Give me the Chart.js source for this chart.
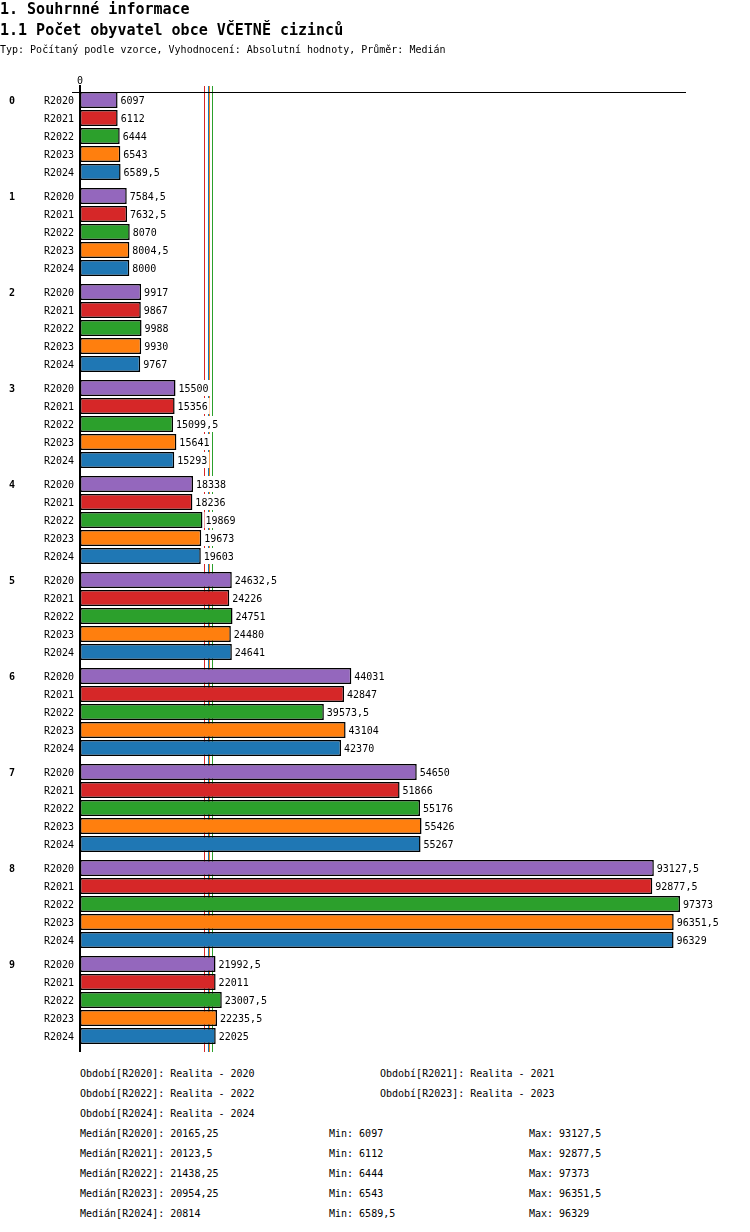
<!DOCTYPE html>
<html>
<head>
<meta charset="utf-8">
<script src="https://cdn.jsdelivr.net/npm/chart.js@4.4.1/dist/chart.umd.min.js"></script>
<style>
  body { margin: 0; background: #fff; color: #000; font-family: "DejaVu Sans Mono", monospace; }
  #page { position: relative; width: 750px; height: 1232px; overflow: hidden; }
  .t1 { position: absolute; left: 0; top: 0; font-size: 15px; font-weight: bold; line-height: 18px; white-space: nowrap; }
  .t2 { position: absolute; left: 0; top: 21px; font-size: 15px; font-weight: bold; line-height: 18px; white-space: nowrap; }
  .sub { position: absolute; left: 0; top: 44px; font-size: 10px; line-height: 12px; white-space: nowrap; }
  #chartBox { position: absolute; left: 0; top: 0; width: 750px; height: 1060px; }
  .foot { position: absolute; font-size: 10px; line-height: 20px; white-space: nowrap; }
</style>
</head>
<body>
<div id="page">
  <div id="chartBox"><canvas id="barChart" width="750" height="1060"></canvas></div>
  <div class="t1">1. Souhrnné informace</div>
  <div class="t2">1.1 Počet obyvatel obce VČETNĚ cizinců</div>
  <div class="sub">Typ: Počítaný podle vzorce, Vyhodnocení: Absolutní hodnoty, Průměr: Medián</div>
  <div id="footer"></div>
</div>
<script>
// groups (rows) and periods (bars in each row)
const groups = ["0", "1", "2", "3", "4", "5", "6", "7", "8", "9"];
const periods = ["R2020", "R2021", "R2022", "R2023", "R2024"];
const periodNames = ["Realita - 2020", "Realita - 2021", "Realita - 2022", "Realita - 2023", "Realita - 2024"];
const periodColors = ["#9467bd", "#d62728", "#2ca02c", "#ff7f0e", "#1f77b4"];

const r2020 = [6097, 7584.5, 9917, 15500, 18338, 24632.5, 44031, 54650, 93127.5, 21992.5];
const r2021 = [6112, 7632.5, 9867, 15356, 18236, 24226, 42847, 51866, 92877.5, 22011];
const r2022 = [6444, 8070, 9988, 15099.5, 19869, 24751, 39573.5, 55176, 97373, 23007.5];
const r2023 = [6543, 8004.5, 9930, 15641, 19673, 24480, 43104, 55426, 96351.5, 22235.5];
const r2024 = [6589.5, 8000, 9767, 15293, 19603, 24641, 42370, 55267, 96329, 22025];

const xMax = 98350;
const series = [r2020, r2021, r2022, r2023, r2024];

function median(arr) {
    const s = [...arr].sort((a, b) => a - b);
    const m = Math.floor(s.length / 2);
    return s.length % 2 ? s[m] : (s[m - 1] + s[m]) / 2;
}
function fmt(v) {
    return String(v).replace(".", ",");
}

const medians = series.map(median);
const mins = series.map(s => Math.min(...s));
const maxs = series.map(s => Math.max(...s));

const FONT = '10px "DejaVu Sans Mono", monospace';

// median lines + axes + labels
const decorPlugin = {
    id: "decor",
    beforeDatasetsDraw(chart) {
        const ctx = chart.ctx;
        const area = chart.chartArea;
        const xs = chart.scales.x;
        ctx.save();
        ctx.lineWidth = 1;
        medians.forEach((m, i) => {
            const x = Math.round(xs.getPixelForValue(m)) + 0.5;
            ctx.strokeStyle = periodColors[i];
            ctx.beginPath();
            ctx.moveTo(x, area.top - 2);
            ctx.lineTo(x, area.bottom + 4);
            ctx.stroke();
        });
        ctx.restore();
    },
    afterDatasetsDraw(chart) {
        const ctx = chart.ctx;
        const area = chart.chartArea;
        const xs = chart.scales.x;
        const x0 = xs.getPixelForValue(0);
        ctx.save();
        ctx.font = FONT;
        ctx.textBaseline = "middle";

        chart.data.datasets.forEach((ds, i) => {
            const meta = chart.getDatasetMeta(i);
            meta.data.forEach((el, j) => {
                const txt = fmt(ds.data[j]);
                const w = ctx.measureText(txt).width;
                ctx.fillStyle = "#fff";
                ctx.fillRect(el.x + 2, el.y - 8, w + 3, 16);
                ctx.fillStyle = "#000";
                ctx.textAlign = "left";
                ctx.fillText(txt, el.x + 3, el.y + 1);
                ctx.textAlign = "right";
                ctx.fillText(periods[i], x0 - 6, el.y + 1);
            });
        });

        // group numbers
        const first = chart.getDatasetMeta(0);
        ctx.font = 'bold 10px "DejaVu Sans Mono", monospace';
        ctx.textAlign = "left";
        first.data.forEach((el, j) => {
            ctx.fillText(groups[j], 9, el.y + 1);
        });

        // axes
        ctx.strokeStyle = "#000";
        ctx.lineWidth = 1;
        ctx.beginPath();
        ctx.moveTo(x0 - 8, area.top + 4.5);
        ctx.lineTo(area.right, area.top + 4.5);
        ctx.stroke();
        ctx.lineWidth = 2;
        ctx.beginPath();
        ctx.moveTo(x0, area.top - 3);
        ctx.lineTo(x0, area.bottom + 4);
        ctx.stroke();

        ctx.font = FONT;
        ctx.textAlign = "center";
        ctx.fillText("0", x0, area.top - 7);
        ctx.restore();
    }
};

new Chart(document.getElementById("barChart"), {
    type: "bar",
    data: {
        labels: groups,
        datasets: periods.map((p, i) => ({
            label: p,
            data: series[i],
            backgroundColor: periodColors[i],
            borderColor: "#000",
            borderWidth: 1.5,
            borderSkipped: false,
            categoryPercentage: 0.9375,
            barPercentage: 0.889
        }))
    },
    options: {
        indexAxis: "y",
        responsive: false,
        animation: false,
        layout: { padding: { left: 80, right: 64, top: 88, bottom: 12 } },
        plugins: { legend: { display: false }, tooltip: { enabled: false } },
        scales: {
            x: { min: 0, max: xMax, display: false },
            y: { display: false }
        }
    },
    plugins: [decorPlugin]
});

// footer text
const footer = document.getElementById("footer");
function addFoot(text, x, y) {
    const d = document.createElement("div");
    d.className = "foot";
    d.style.left = x + "px";
    d.style.top = (y - 9) + "px";
    d.textContent = text;
    footer.appendChild(d);
}
periods.forEach((p, i) => {
    const row = Math.floor(i / 2);
    const col = i % 2;
    addFoot("Období[" + p + "]: " + periodNames[i], col ? 380 : 80, 1073 + row * 20);
});
periods.forEach((p, i) => {
    const y = 1133 + i * 20;
    addFoot("Medián[" + p + "]: " + fmt(medians[i]), 80, y);
    addFoot("Min: " + fmt(mins[i]), 329, y);
    addFoot("Max: " + fmt(maxs[i]), 529, y);
});
</script>
</body>
</html>
